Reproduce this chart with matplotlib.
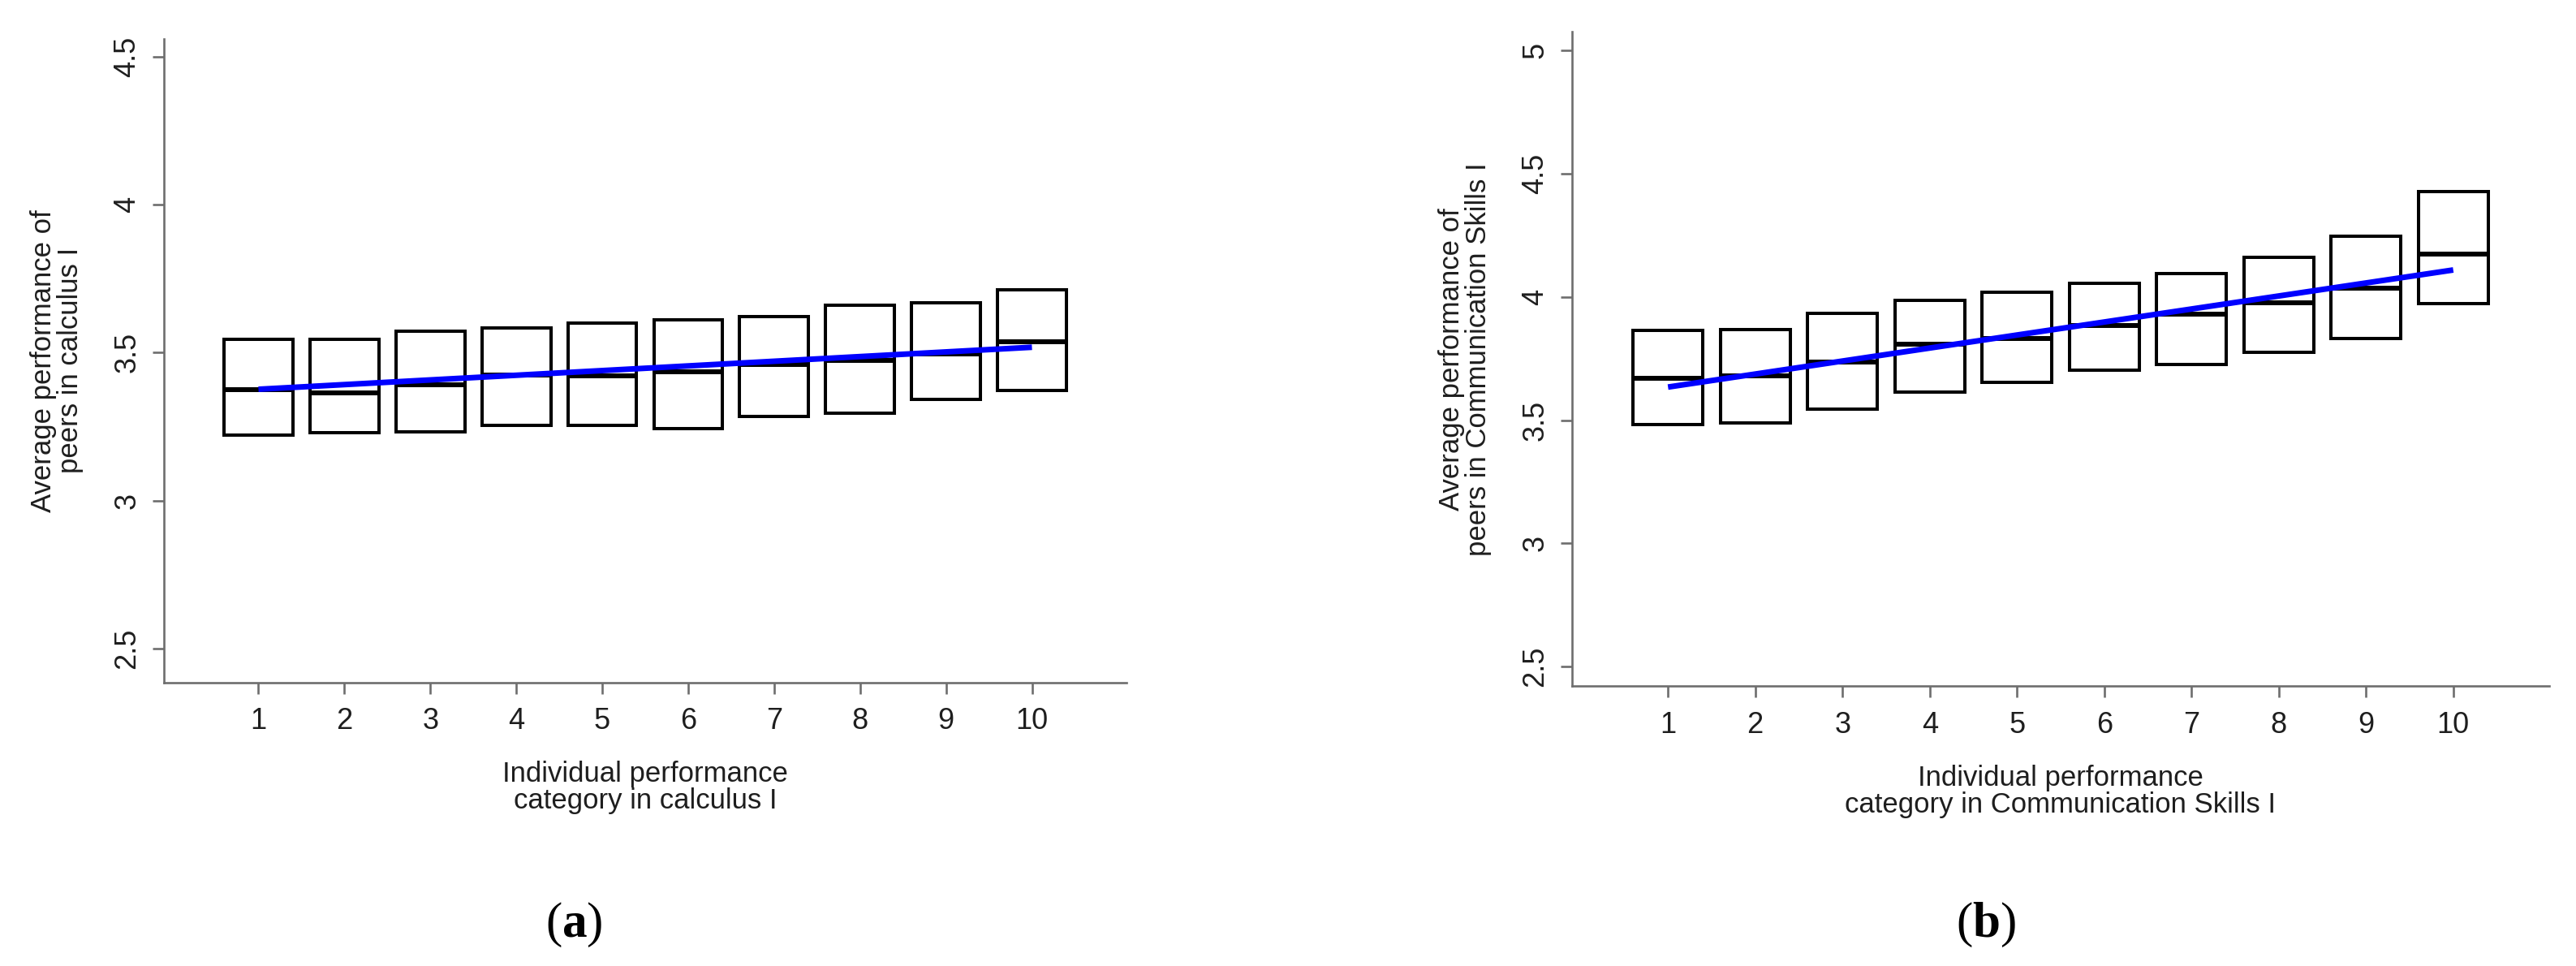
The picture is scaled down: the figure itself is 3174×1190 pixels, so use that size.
import matplotlib
matplotlib.use("Agg")
import matplotlib.pyplot as plt

plt.rcParams['font.family'] = ['Liberation Sans', 'DejaVu Sans']
plt.rcParams['mathtext.fontset'] = 'custom'
plt.rcParams['mathtext.rm'] = 'Liberation Serif'
plt.rcParams['mathtext.bf'] = 'Liberation Serif:bold'

# performance categories (x axis)
categories = [1, 2, 3, 4, 5, 6, 7, 8, 9, 10]

# panel (a): calculus I -- box bottom, median, top
calc_low = [3.221, 3.228, 3.232, 3.255, 3.255, 3.243, 3.283, 3.294, 3.343, 3.372]
calc_med = [3.376, 3.363, 3.391, 3.425, 3.422, 3.436, 3.459, 3.474, 3.496, 3.536]
calc_high = [3.545, 3.544, 3.573, 3.584, 3.600, 3.612, 3.623, 3.661, 3.668, 3.712]
calc_fit = [3.376, 3.518]   # fitted line at category 1 and 10

# panel (b): Communication Skills I
comm_low = [3.482, 3.488, 3.543, 3.612, 3.652, 3.702, 3.727, 3.776, 3.830, 3.973]
comm_med = [3.669, 3.679, 3.734, 3.809, 3.832, 3.883, 3.929, 3.977, 4.036, 4.174]
comm_high = [3.865, 3.866, 3.933, 3.987, 4.019, 4.054, 4.096, 4.159, 4.245, 4.428]
comm_fit = [3.634, 4.109]

calc_yticks = [2.5, 3, 3.5, 4, 4.5]
comm_yticks = [2.5, 3, 3.5, 4, 4.5, 5]

spine_col = "#6e6e6e"
text_col = "#1e1e1e"


def draw_panel(ax, low, med, high, fit, yticks, ylim, ylabel, xlabel):
    heights = [h - l for h, l in zip(high, low)]
    ax.bar(categories, heights, bottom=low, width=0.8, fill=False,
           edgecolor="black", linewidth=2.9, zorder=2)
    ax.hlines(med, [c - 0.4 for c in categories], [c + 0.4 for c in categories],
              color="black", linewidth=4.3, zorder=2)
    ax.plot([categories[0], categories[-1]], fit, color="#0000ff",
            linewidth=5, solid_capstyle="butt", zorder=3)

    ax.set_xlim(-0.1, 11.1)
    ax.set_ylim(*ylim)
    ax.set_xticks(categories)
    ax.set_yticks(yticks)
    ax.set_yticklabels([f"{t:g}" for t in yticks], rotation=90, va="center")

    for s in ["top", "right"]:
        ax.spines[s].set_visible(False)
    for s in ["left", "bottom"]:
        ax.spines[s].set_color(spine_col)
        ax.spines[s].set_linewidth(1.9)
    ax.tick_params(axis="both", color=spine_col, width=1.9, length=10,
                   labelsize=26, labelcolor=text_col)
    ax.tick_params(axis="x", pad=12)
    ax.tick_params(axis="y", pad=10)

    ax.set_xlabel(xlabel, fontsize=25, color=text_col, linespacing=1.0, labelpad=22)
    ax.set_ylabel(ylabel, fontsize=25, color=text_col, linespacing=1.0, labelpad=26)


fig = plt.figure(figsize=(31.74, 11.9), dpi=100)

ax1 = fig.add_axes([0.06364, 0.29353, 0.37366, 0.66613])
draw_panel(ax1, calc_low, calc_med, calc_high, calc_fit, calc_yticks, (2.385, 4.56),
           "Average performance of\npeers in calculus I",
           "Individual performance\ncategory in calculus I")

ax2 = fig.add_axes([0.61027, 0.28950, 0.37933, 0.67731])
draw_panel(ax2, comm_low, comm_med, comm_high, comm_fit, comm_yticks, (2.42, 5.074),
           "Average performance of\npeers in Communication Skills I",
           "Individual performance\ncategory in Communication Skills I")

# panel captions
fig.text(707 / 3174, 1 - 1139 / 1190, r"($\mathbf{a}$)", fontsize=44,
         family="Liberation Serif", ha="center", va="center", color="black")
fig.text(2447 / 3174, 1 - 1139 / 1190, r"($\mathbf{b}$)", fontsize=44,
         family="Liberation Serif", ha="center", va="center", color="black")

fig.savefig("out.png", dpi=100, facecolor="white")
